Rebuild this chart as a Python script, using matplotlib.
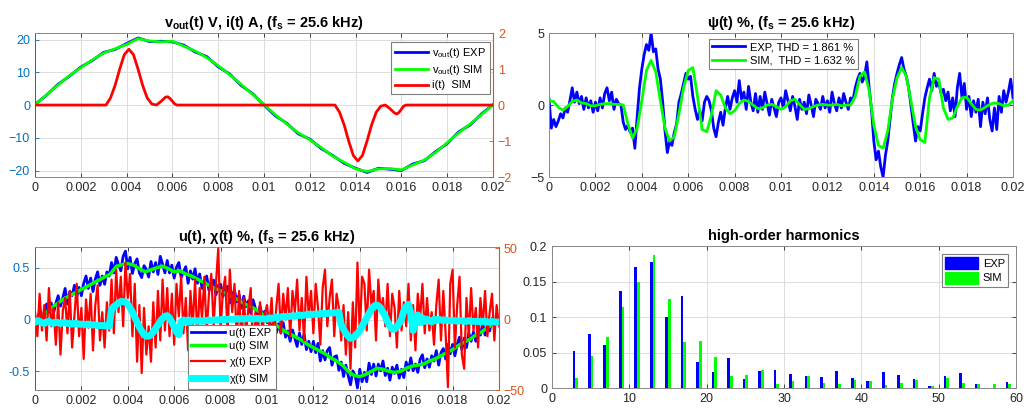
import numpy as np
import matplotlib
matplotlib.use('Agg')
import matplotlib.pyplot as plt
from matplotlib.ticker import FuncFormatter
from matplotlib.patches import Patch

plt.rcParams['font.family'] = ['Liberation Sans', 'DejaVu Sans']
plt.rcParams['mathtext.fontset'] = 'custom'
plt.rcParams['mathtext.rm'] = 'Liberation Sans'
plt.rcParams['mathtext.it'] = 'Liberation Sans:italic'
plt.rcParams['mathtext.bf'] = 'Liberation Sans:bold'
plt.rcParams['mathtext.default'] = 'regular'

# ---- data ----

# output voltage, 0 .. 0.02 s every 0.5 ms
vout_sim = [0.0, 3.1, 6.1, 9.0, 11.4, 13.8, 15.9, 17.2, 18.5, 20.3, 19.6, 19.3, 19.5, 18.0, 16.5, 14.5,
            12.0, 9.3, 6.3, 3.3, 0.2, -3.0, -5.8, -8.5, -10.6, -13.0, -15.6, -17.5, -19.5, -20.3, -19.5,
            -19.4, -19.8, -18.3, -16.8, -14.5, -11.5, -8.5, -5.8, -2.9, 0.0]
vout_exp = [0.2, 3.0, 6.3, 8.8, 11.6, 13.6, 16.1, 17.0, 18.8, 20.5, 19.4, 19.5, 19.3, 18.3, 16.2, 14.8,
            11.7, 9.5, 6.0, 3.5, 0.0, -3.3, -5.6, -8.8, -10.4, -13.3, -15.4, -17.8, -19.3, -20.6, -19.3,
            -19.6, -20.0, -18.0, -17.0, -14.2, -11.8, -8.2, -6.1, -2.7, 0.1]

# inductor current pulses
i_time = [0, 0.0031, 0.0033, 0.0035, 0.0037, 0.0039, 0.0041, 0.0043, 0.0045, 0.0047, 0.0049, 0.0051,
          0.0053, 0.0055, 0.0057, 0.0058, 0.0059, 0.0061, 0.0062, 0.0131, 0.0133, 0.0135, 0.0137, 0.0139,
          0.0141, 0.0143, 0.0145, 0.0147, 0.0149, 0.0151, 0.0153, 0.0155, 0.0157, 0.0158, 0.0159, 0.0161,
          0.0162, 0.02]
i_sim = [0, 0, 0.2, 0.55, 1.0, 1.4, 1.55, 1.4, 1.0, 0.55, 0.2, 0.03, 0.0, 0.1, 0.22, 0.23, 0.18, 0.03,
         0, 0, -0.2, -0.55, -1.0, -1.4, -1.55, -1.4, -1.0, -0.55, -0.2, -0.03, 0.0, -0.1, -0.22, -0.25,
         -0.2, -0.03, 0, 0]

# distortion psi(t) %, SIM every 0.2 ms
psi_sim = [0.3, 0.25, -0.15, -0.35, -0.1, 0.25, 0.35, 0.15, 0.1, -0.05,
           -0.05, 0.05, 0.1, 0.1, 0.05, 0.05, 0.0, -1.3, -2.3, -1.6,
           0.3, 2.4, 3.1, 2.3, 0.3, -1.6, -2.5, -2.2, -0.6, 1.2,
           2.4, 2.6, 0.6, -1.7, -1.85, -0.7, 1.0, 0.7, -0.2, -0.6,
           -0.4, 0.1, 0.35, 0.25, 0.0, -0.25, -0.2, 0.0, 0.05, -0.1,
           -0.3, -0.1, 0.3, 0.4, 0.05, -0.3, -0.25, -0.1, 0.0, 0.05,
           0.0, 0.0, 0.05, -0.05, 0.0, 0.0, 0.6, 2.0, 2.3, 1.0,
           -1.4, -2.8, -3.0, -1.8, 0.4, 1.9, 2.6, 2.0, 0.3, -1.5,
           -2.4, -2.6, 0.5, 1.9, 1.8, -0.2, -1.0, -0.9, -0.1, 0.5,
           0.55, 0.1, -0.3, -0.35, -0.15, 0.05, 0.15, 0.1, -0.05, 0.0, 0.3]

# psi EXP every 0.1 ms
psi_exp = [0.4, -1.6, -1.0, -1.5, -1.1, -0.6, -0.9, -0.2, -0.5, 0.3,
           1.2, 0.2, 0.9, 0.1, 0.6, -0.3, 0.5, -0.2, 0.3, -0.5,
           0.2, -0.4, 0.5, -0.2, 0.8, 1.2, 0.3, 0.9, -0.3, 0.4,
           0.1, 0.0, -1.2, -1.7, -1.4, -1.9, -1.6, -3.0, -0.8, 1.2,
           2.5, 3.5, 4.2, 3.8, 5.0, 3.7, 3.9, 2.5, 1.8, 0.2,
           -1.8, -3.3, -2.5, -2.8, -1.9, -1.3, 0.2, 0.8, 1.5, 2.2,
           1.8, 2.0, 0.6, -0.3, -1.0, -0.4, -1.1, 0.2, 0.6, 0.3,
           -0.4, -1.6, -2.2, -1.2, -0.5, -1.4, -0.2, 0.6, -0.3, 0.5,
           1.0, 0.2, 1.7, 0.4, 0.9, -0.3, 1.3, 0.2, -0.4, 0.8,
           -0.5, 0.6, -0.3, 0.9, 0.1, -0.7, 0.4, -0.2, -0.8, 0.2,
           0.5, -0.2, 1.0, 0.3, -0.4, 0.6, -0.1, -1.0, 0.4, -0.3,
           0.2, -0.6, 0.7, 0.0, -0.8, 0.4, 0.1, -0.3, 0.6, -0.2,
           0.3, -0.5, 0.9, 0.1, -0.4, 0.5, -0.2, 0.8, 0.2, -0.3,
           0.5, 0.3, 1.2, 1.8, 2.2, 1.6, 2.0, 3.0, 1.2, -0.3,
           -2.5, -3.8, -3.2, -4.3, -5.0, -3.5, -2.5, -1.0, 0.5, 1.5,
           2.2, 2.8, 3.3, 2.5, 2.0, 1.2, 0.0, -1.3, -2.5, -1.5,
           -1.8, -0.6, 0.5, 1.2, 1.8, 1.0, 2.2, 1.3, 1.6, 0.8,
           1.1, 0.3, 0.9, -0.4, 0.5, -0.8, 1.2, 2.2, 0.5, 1.5,
           -0.3, 0.6, -0.8, 0.3, -0.5, 0.4, -1.5, 0.2, -0.6, 0.5,
           -1.0, -1.8, -0.2, -1.7, 0.6, -0.5, 1.0, 0.2, 0.9, 1.8, 0.5]

# modulation signal u(t), SIM every 0.25 ms
u_sim = [0.00, 0.03, 0.07, 0.12, 0.16, 0.20, 0.23, 0.26, 0.29, 0.32, 0.35, 0.38, 0.41, 0.44,
         0.51, 0.53, 0.54, 0.525, 0.49, 0.46, 0.48, 0.50, 0.515, 0.49, 0.46, 0.47, 0.44, 0.42,
         0.39, 0.36, 0.33, 0.30, 0.28, 0.25, 0.22, 0.19, 0.155, 0.13, 0.10, 0.06, 0.02,
         -0.03, -0.07, -0.11, -0.14, -0.17, -0.20, -0.24, -0.27, -0.30, -0.33, -0.37, -0.40, -0.44,
         -0.50, -0.54, -0.55, -0.53, -0.50, -0.47, -0.48, -0.50, -0.51, -0.50, -0.47, -0.45, -0.44,
         -0.43, -0.40, -0.38, -0.35, -0.32, -0.29, -0.25, -0.22, -0.19, -0.15, -0.12, -0.08, -0.04, 0.00]

# u EXP every 0.1 ms
u_exp = [0.03, -0.03, 0.09, 0.05, 0.01, 0.15, 0.07, 0.16, 0.06, 0.16,
         0.23, 0.13, 0.21, 0.30, 0.15, 0.27, 0.23, 0.33, 0.22, 0.31,
         0.23, 0.35, 0.42, 0.30, 0.40, 0.27, 0.39, 0.46, 0.33, 0.42,
         0.34, 0.46, 0.42, 0.55, 0.45, 0.60, 0.53, 0.47, 0.61, 0.66,
         0.49, 0.60, 0.445, 0.54, 0.585, 0.45, 0.405, 0.52, 0.485, 0.41,
         0.56, 0.46, 0.55, 0.435, 0.61, 0.535, 0.45, 0.57, 0.45, 0.525,
         0.40, 0.505, 0.55, 0.405, 0.46, 0.51, 0.35, 0.47, 0.39, 0.49,
         0.35, 0.44, 0.30, 0.38, 0.42, 0.28, 0.33, 0.38, 0.24, 0.33,
         0.34, 0.22, 0.29, 0.32, 0.16, 0.24, 0.28, 0.17, 0.24, 0.11,
         0.225, 0.125, 0.18, 0.06, 0.19, 0.11, 0.035, 0.13, 0.03, 0.08,
         -0.03, 0.04, -0.05, 0.02, -0.13, -0.04, -0.13, -0.03, -0.17, -0.11,
         -0.21, -0.10, -0.18, -0.26, -0.13, -0.24, -0.14, -0.29, -0.21, -0.31,
         -0.21, -0.32, -0.23, -0.40, -0.30, -0.39, -0.30, -0.27, -0.44, -0.36,
         -0.35, -0.49, -0.41, -0.55, -0.44, -0.54, -0.63, -0.495, -0.54, -0.66,
         -0.48, -0.60, -0.51, -0.60, -0.42, -0.53, -0.43, -0.545, -0.43, -0.495,
         -0.40, -0.54, -0.47, -0.585, -0.46, -0.52, -0.44, -0.565, -0.48, -0.56,
         -0.41, -0.49, -0.37, -0.495, -0.43, -0.51, -0.385, -0.34, -0.465, -0.38,
         -0.46, -0.35, -0.40, -0.30, -0.44, -0.32, -0.28, -0.38, -0.24, -0.33,
         -0.24, -0.35, -0.24, -0.17, -0.29, -0.18, -0.27, -0.13, -0.21, -0.12,
         -0.21, -0.10, -0.15, -0.04, -0.15, -0.06, -0.11, 0.01, -0.06, 0.01, 0.00]

# chi(t) %, every 0.1 ms
chi_exp = [5, -12, 18, -8, 10, -15, 22, -5, 8, -18,
           12, -25, 6, 15, -10, 20, -20, 3, 25, -12,
           8, -28, 14, -6, 18, -22, 10, 24, -15, 5,
           -20, 12, -8, 28, -10, 35, 5, 30, -5, 40,
           15, 32, -12, 25, -30, 10, -38, 8, -25, -5,
           -30, 12, -20, 20, -15, 28, -8, 22, -12, 18,
           -18, 25, 2, 30, -10, 15, -22, 20, -5, 28,
           -15, 22, 0, 30, -10, 18, 32, -5, 25, 50,
           -8, 20, 30, -12, 35, 5, 25, -15, 20, -20,
           15, -10, 8, 22, -25, 5, -12, 12, -8, 3,
           10, -5, 15, -18, 8, 25, -10, 18, 0, 22,
           -12, 20, 5, 28, -8, 15, -15, 30, 2, 20,
           -10, 25, 8, -18, 22, 35, -5, 15, 28, -12,
           18, 8, -15, 10, -25, 5, -35, 12, -20, 40,
           -10, 30, 25, -8, 35, 10, 20, -15, 28, 5,
           15, -5, 25, -12, 18, 8, -20, 20, -8, 12,
           -5, 25, -15, 10, -22, 18, 0, 25, -10, 15,
           -8, 5, -18, 10, 28, -15, 20, -10, -48, 25,
           35, -20, 10, 30, -25, -35, 15, -12, 22, -8,
           8, -20, 15, -5, 20, -12, 5, 18, -15, 10, -5]
chi_sim = [-2, -1, -1.5, -2.5, -3, -2, -1.5, -2.5, -3, -2,
           -2.5, -3, -2.5, -2.5, -3, -3, -3.5, -3, -3, -3.5,
           -3.5, -3.5, -4, -3.5, -4, -4, -4, -4.5, -4.5, -4.5,
           -4.5, -5, -5, 7, 9, 10, 11.5, 12.5, 12.5, 12,
           10.5, 8, 5, 1.5, -2, -5.5, -8.5, -11, -12, -12,
           -11, -9, -6.5, -4, -1.5, 0.5, 2, 2.5, 1, -2,
           -5.5, -9, -11, -1.5, -0.5, -2.5, -0.5, -2, -1, -1,
           -1.5, -1, -1.5, -1, -1, -0.5, -1, -0.5, -0.5, -0.5,
           -0.5, 0, -0.5, 0, 0, 0, 0, 0.5, 0, 0.5,
           0, 0.5, 0.5, 0.5, 0, 0.5, 0.5, 0, 0.5, 0,
           0, 1, 0.5, 1, 1.5, 1, 1.5, 2, 1.5, 2,
           2, 2.5, 2, 2.5, 3, 2.5, 3, 3, 3.5, 3,
           3.5, 3.5, 3.5, 4, 4, 4, 4, 4.5, 4.5, 4.5,
           4.5, 5, -4, -7, -10, -12, -13.5, -13, -12, -10,
           -8, -5, -2, 1, 4, 7, 9, 10, 9.5, 8,
           5, 2, -2, -5, -7, -7, -5.5, -3, 0, 6,
           9, 10.5, 4, -8, -2, 3, -2.5, 1, -1.5, 0,
           -1, -2, 0, -1, 0, -0.5, -1, -0.5, -1, -1,
           -1, -1, -1.5, -1, -1, -1.5, -1.5, -1, -1.5, -1.5,
           -1.5, -1.5, -2, -1.5, -1.5, -2, -2, -1.5, -2, -2, -2]

# harmonic spectrum
harm_order = list(range(3, 60, 2))
harm_exp = [0.0528, 0.0757, 0.0607, 0.137, 0.170, 0.178, 0.100, 0.1294, 0.036, 0.022,
            0.042, 0.0126, 0.0238, 0.026, 0.020, 0.0173, 0.0159, 0.0243, 0.0136, 0.0093,
            0.0229, 0.0187, 0.0121, 0.0023, 0.0164, 0.0206, 0.0056, 0.0, 0.0079]
harm_sim = [0.0145, 0.0449, 0.0724, 0.114, 0.1495, 0.188, 0.1257, 0.0654, 0.0664, 0.0435,
            0.0164, 0.0187, 0.0248, 0.0056, 0.0093, 0.0173, 0.0075, 0.006, 0.0107, 0.0098,
            0.0037, 0.0075, 0.0107, 0.0033, 0.0136, 0.0065, 0.006, 0.006, 0.0056]

t_vout = np.linspace(0, 0.02, len(vout_sim))
t_psi_sim = np.linspace(0, 0.02, len(psi_sim))
t_fine = np.linspace(0, 0.02, len(psi_exp))
t_u_sim = np.linspace(0, 0.02, len(u_sim))

BLUE, GREEN, RED, CYAN = '#0000ff', '#00ff00', '#ff0000', '#00ffff'
LEFTC, RIGHTC = '#0072bd', '#d95319'
GRIDC = '#dcdcdc'
TXT = '#262626'
fmt = FuncFormatter(lambda v, p: '%g' % round(v, 6))


def base_axes(fig, rect, xlim, xticks):
    ax = fig.add_axes(rect)
    ax.set_xlim(*xlim)
    ax.set_xticks(xticks)
    ax.xaxis.set_major_formatter(fmt)
    ax.grid(True, color=GRIDC, lw=0.7)
    ax.set_axisbelow(True)
    ax.tick_params(direction='in', length=3, labelsize=9, colors=TXT, top=True, right=True, width=0.6)
    for s in ax.spines.values():
        s.set_color('#8a8a8a')
        s.set_linewidth(0.7)
    return ax


def yy_colors(ax, ax2):
    ax.tick_params(axis='y', colors=LEFTC, right=False)
    ax.spines['left'].set_color(LEFTC)
    ax2.tick_params(axis='y', direction='in', length=3, labelsize=9, colors=RIGHTC, width=0.6)
    ax2.spines['right'].set_color(RIGHTC)
    for k in ['left', 'top', 'bottom']:
        ax2.spines[k].set_visible(False)


def legend(ax, handles, labels, **kw):
    leg = ax.legend(handles, labels, fontsize=8, fancybox=False, framealpha=1, edgecolor='#7f7f7f',
                    handlelength=3.0, borderpad=0.3, labelspacing=0.3, handletextpad=0.4, **kw)
    leg.get_frame().set_linewidth(0.8)
    leg.set_zorder(20)
    return leg


fig = plt.figure(figsize=(10.32, 4.08), dpi=100)
tticks = np.arange(0, 0.0201, 0.002)

# ---- top left: output voltage and current ----
ax1 = base_axes(fig, [0.0339, 0.566, 0.4438, 0.353], (0, 0.02), tticks)
ax1.set_ylim(-22, 22)
ax1.set_yticks([-20, -10, 0, 10, 20])
l1, = ax1.plot(t_vout, vout_exp, color=BLUE, lw=2)
l2, = ax1.plot(t_vout, vout_sim, color=GREEN, lw=2)
ax1r = ax1.twinx()
ax1r.set_ylim(-2, 2)
ax1r.set_yticks([-2, -1, 0, 1, 2])
l3, = ax1r.plot(i_time, i_sim, color=RED, lw=2)
yy_colors(ax1, ax1r)
ax1.set_title(r'$\mathbf{v_{out}}$(t) V, i(t) A, ($\mathbf{f_s}$ = 25.6 kHz)', fontsize=10.5,
              fontweight='bold', pad=4)
legend(ax1r, [l1, l2, l3], [r'v$_{out}$(t) EXP', r'v$_{out}$(t) SIM', 'i(t)  SIM'],
       loc='upper right', bbox_to_anchor=(0.993, 0.935), borderaxespad=0)

# ---- top right: psi ----
ax2 = base_axes(fig, [0.532, 0.566, 0.4496, 0.353], (0, 0.02), tticks)
ax2.set_ylim(-5, 5)
ax2.set_yticks([-5, 0, 5])
p1, = ax2.plot(t_fine, psi_exp, color=BLUE, lw=2)
p2, = ax2.plot(t_psi_sim, psi_sim, color=GREEN, lw=2)
ax2.set_title(r'$\psi$(t) %, ($\mathbf{f_s}$ = 25.6 kHz)', fontsize=10.5, fontweight='bold', pad=4)
legend(ax2, [p1, p2], ['EXP, THD = 1.861 %', 'SIM,  THD = 1.632 %'],
       loc='upper center', bbox_to_anchor=(0.505, 0.96), borderaxespad=0)

# ---- bottom left: u and chi ----
ax3 = base_axes(fig, [0.0339, 0.0441, 0.4496, 0.3505], (0, 0.02), tticks)
ax3.set_ylim(-0.68, 0.70)
ax3.set_yticks([-0.5, 0, 0.5])
ax3.yaxis.set_major_formatter(fmt)
u1, = ax3.plot(t_fine, u_exp, color=BLUE, lw=2)
u2, = ax3.plot(t_u_sim, u_sim, color=GREEN, lw=2.5)
ax3r = ax3.twinx()
ax3r.set_ylim(-49, 51)
ax3r.set_yticks([-50, 0, 50])
c1, = ax3r.plot(t_fine, chi_exp, color=RED, lw=1.6)
c2, = ax3r.plot(t_fine, chi_sim, color=CYAN, lw=5)
yy_colors(ax3, ax3r)
ax3.set_title(r'u(t), $\chi$(t) %, ($\mathbf{f_s}$ = 25.6 kHz)', fontsize=10.5, fontweight='bold', pad=4)
legend(ax3r, [u1, u2, c1, c2], ['u(t) EXP', 'u(t) SIM', r'$\chi$(t) EXP', r'$\chi$(t) SIM'],
       loc='lower left', bbox_to_anchor=(0.33, 0.005), borderaxespad=0)

# ---- bottom right: harmonics ----
ax4 = base_axes(fig, [0.5349, 0.049, 0.4496, 0.348], (0, 60), np.arange(0, 61, 10))
ax4.set_ylim(0, 0.2)
ax4.set_yticks(np.arange(0, 0.201, 0.05))
ax4.yaxis.set_major_formatter(fmt)
harm = np.array(harm_order)
ax4.bar(harm - 0.175, harm_exp, width=0.35, color=BLUE)
ax4.bar(harm + 0.175, harm_sim, width=0.35, color=GREEN)
ax4.set_title('high-order harmonics', fontsize=10.5, fontweight='bold', pad=4)
leg = ax4.legend([Patch(color=BLUE), Patch(color=GREEN)], ['EXP', 'SIM'], fontsize=8, fancybox=False,
                 framealpha=1, edgecolor='#7f7f7f', handlelength=3.0, handleheight=1.3,
                 borderpad=0.3, labelspacing=0.2, handletextpad=0.4, loc='upper right',
                 bbox_to_anchor=(0.983, 0.944), borderaxespad=0)
leg.get_frame().set_linewidth(0.8)

fig.savefig('out.png', dpi=100, facecolor='white')
